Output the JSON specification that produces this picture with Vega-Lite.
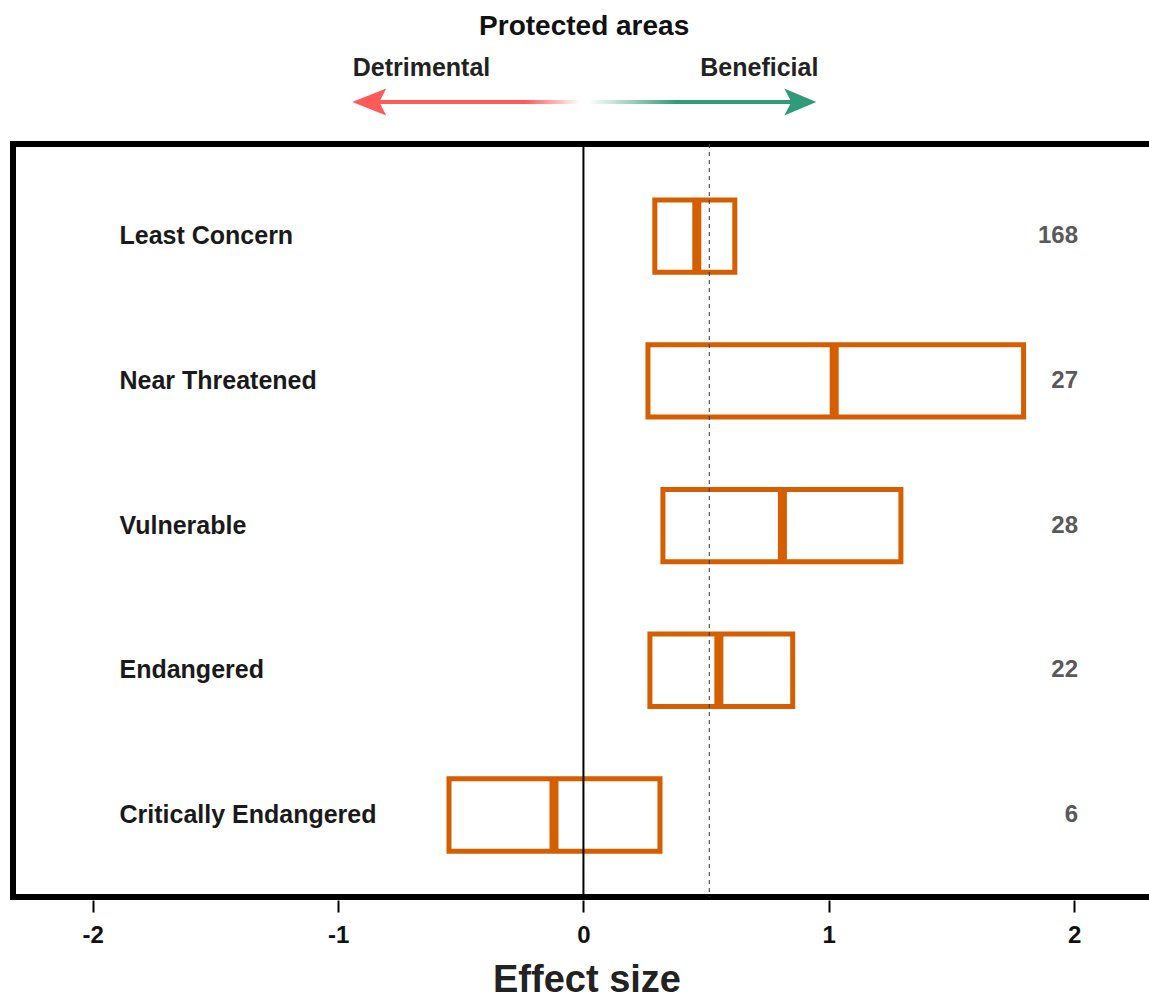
{
  "$schema": "https://vega.github.io/schema/vega-lite/v6.json",
  "padding": {"left": 10, "top": 0, "right": 0, "bottom": 0},
  "config": {
    "font": "Liberation Sans",
    "view": {"stroke": "black", "strokeWidth": 6},
    "concat": {"spacing": 24}
  },
  "datasets": {
    "effects": [
      {"category": "Least Concern", "lower": 0.291, "median": 0.462, "upper": 0.617, "n": 168},
      {"category": "Near Threatened", "lower": 0.263, "median": 1.022, "upper": 1.794, "n": 27},
      {"category": "Vulnerable", "lower": 0.324, "median": 0.811, "upper": 1.294, "n": 28},
      {"category": "Endangered", "lower": 0.271, "median": 0.552, "upper": 0.853, "n": 22},
      {"category": "Critically Endangered", "lower": -0.548, "median": -0.12, "upper": 0.312, "n": 6}
    ],
    "one": [{}]
  },
  "vconcat": [
    {
      "width": 1147,
      "height": 110,
      "view": {"stroke": null},
      "data": {"name": "one"},
      "layer": [
        {
          "mark": {"type": "text", "text": "Protected areas", "fontSize": 28, "fontWeight": "bold", "color": "#111111", "align": "center", "baseline": "alphabetic"},
          "encoding": {
            "x": {"datum": 0.003, "type": "quantitative", "scale": {"domain": [-2.325, 2.35], "nice": false, "zero": false}, "axis": null},
            "y": {"datum": 35, "type": "quantitative", "scale": {"domain": [0, 110], "reverse": true, "nice": false, "zero": false}, "axis": null}
          }
        },
        {
          "mark": {"type": "text", "text": "Detrimental", "fontSize": 25, "fontWeight": "bold", "color": "#222222", "align": "center", "baseline": "alphabetic"},
          "encoding": {
            "x": {"datum": -0.66, "type": "quantitative"},
            "y": {"datum": 76, "type": "quantitative"}
          }
        },
        {
          "mark": {"type": "text", "text": "Beneficial", "fontSize": 25, "fontWeight": "bold", "color": "#222222", "align": "center", "baseline": "alphabetic"},
          "encoding": {
            "x": {"datum": 0.717, "type": "quantitative"},
            "y": {"datum": 76, "type": "quantitative"}
          }
        },
        {
          "mark": {
            "type": "rect",
            "fill": {
              "gradient": "linear", "x1": 0, "x2": 1, "y1": 0, "y2": 0,
              "stops": [
                {"offset": 0, "color": "#FF5A5A"},
                {"offset": 0.36, "color": "#FF5A5A"},
                {"offset": 0.49, "color": "#FFFFFF"},
                {"offset": 0.51, "color": "#FFFFFF"},
                {"offset": 0.72, "color": "#2F9B78"},
                {"offset": 1, "color": "#2F9B78"}
              ]
            }
          },
          "encoding": {
            "x": {"datum": -0.85, "type": "quantitative"},
            "x2": {"datum": 0.86},
            "y": {"datum": 100, "type": "quantitative"},
            "y2": {"datum": 104}
          }
        },
        {
          "mark": {"type": "point", "shape": "M-1,0L1,-0.79L0.59,0L1,0.79Z", "filled": true, "opacity": 1, "size": 1156, "color": "#FF5A5A", "strokeWidth": 0},
          "encoding": {
            "x": {"datum": -0.873, "type": "quantitative"},
            "y": {"datum": 102, "type": "quantitative"}
          }
        },
        {
          "mark": {"type": "point", "shape": "M1,0L-1,-0.85L-0.56,0L-1,0.85Z", "filled": true, "opacity": 1, "size": 1024, "color": "#2F9B78", "strokeWidth": 0},
          "encoding": {
            "x": {"datum": 0.884, "type": "quantitative"},
            "y": {"datum": 102, "type": "quantitative"}
          }
        }
      ]
    },
    {
      "width": 1147,
      "height": 753,
      "data": {"name": "effects"},
      "layer": [
        {
          "mark": {"type": "rect", "fill": "white", "fillOpacity": 0, "stroke": "#D55E00", "strokeWidth": 5},
          "encoding": {
            "y": {"field": "category", "type": "nominal", "sort": null, "axis": null,
                  "scale": {"paddingInner": 0.5, "paddingOuter": 0.352, "align": 0.55}},
            "x": {
              "field": "lower", "type": "quantitative",
              "scale": {"domain": [-2.325, 2.35], "nice": false, "zero": false},
              "axis": {
                "values": [-2, -1, 0, 1, 2],
                "labelExpr": "'' + datum.value",
                "domain": false,
                "offset": 3,
                "ticks": true, "tickColor": "black", "tickWidth": 2, "tickSize": 12,
                "grid": false,
                "labelFontSize": 24, "labelFontWeight": "bold", "labelColor": "#111111", "labelPadding": 11,
                "title": "Effect size", "titleFontSize": 38, "titleFontWeight": "bold", "titleColor": "#222222", "titlePadding": 14
              }
            },
            "x2": {"field": "upper"}
          }
        },
        {
          "mark": {"type": "tick", "thickness": 9, "size": 76, "color": "#D55E00", "opacity": 1},
          "encoding": {
            "y": {"field": "category", "type": "nominal", "sort": null},
            "x": {"field": "median", "type": "quantitative"}
          }
        },
        {
          "data": {"name": "one"},
          "mark": {"type": "rule", "color": "black", "strokeWidth": 2},
          "encoding": {"x": {"datum": 0, "type": "quantitative"}}
        },
        {
          "data": {"name": "one"},
          "mark": {"type": "rule", "color": "#333333", "strokeWidth": 1, "strokeDash": [4, 4]},
          "encoding": {"x": {"datum": 0.513, "type": "quantitative"}}
        },
        {
          "mark": {"type": "text", "align": "left", "baseline": "middle", "fontSize": 25, "fontWeight": "bold", "color": "#1A1A1A"},
          "encoding": {
            "y": {"field": "category", "type": "nominal", "sort": null},
            "x": {"datum": -1.891, "type": "quantitative"},
            "text": {"field": "category"}
          }
        },
        {
          "mark": {"type": "text", "align": "right", "baseline": "middle", "fontSize": 24, "fontWeight": "bold", "color": "#595959"},
          "encoding": {
            "y": {"field": "category", "type": "nominal", "sort": null},
            "x": {"datum": 2.016, "type": "quantitative"},
            "text": {"field": "n"}
          }
        }
      ]
    }
  ]
}
